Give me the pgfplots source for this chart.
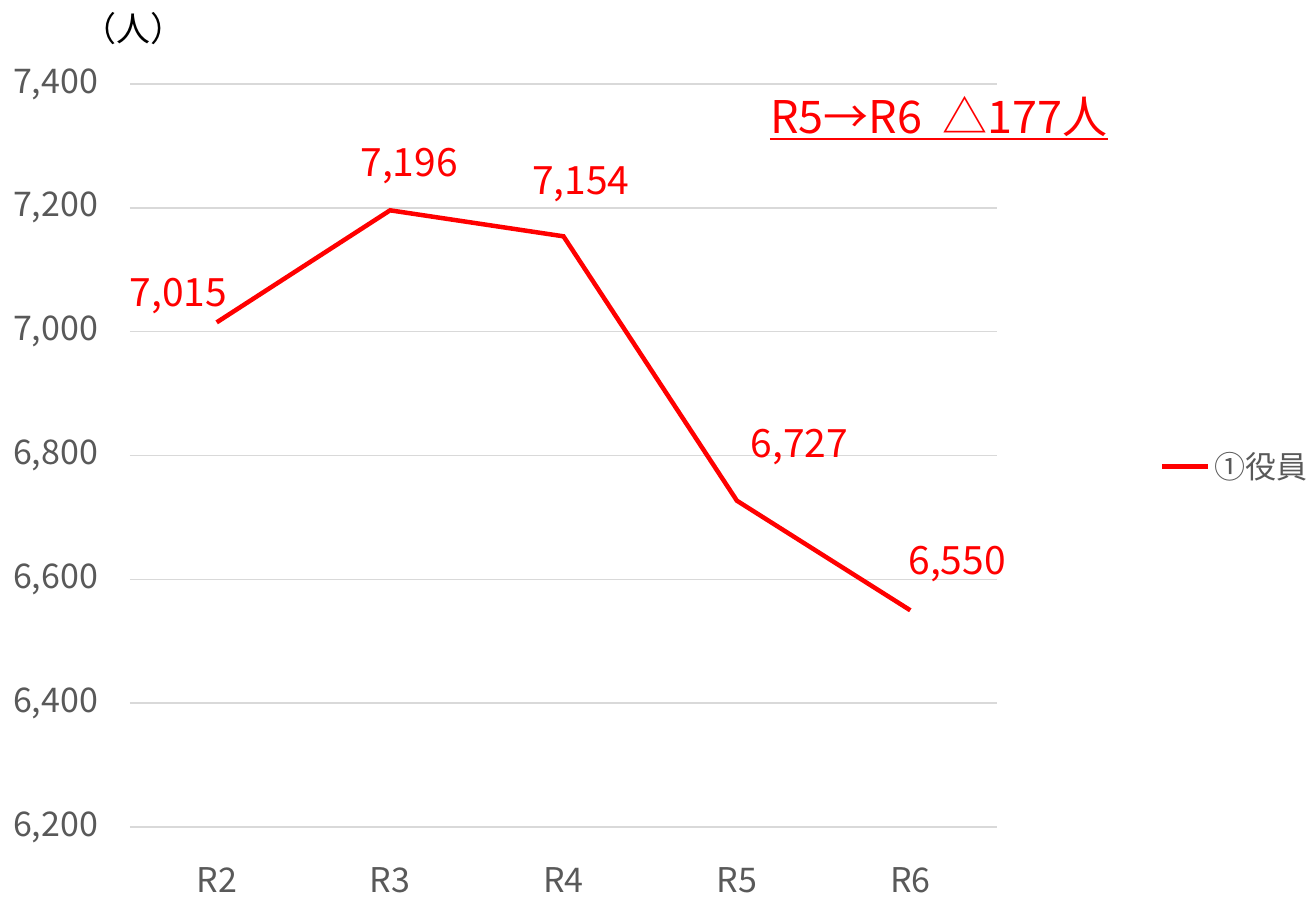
\documentclass[border=0pt]{standalone}
\usepackage{pgfplots}
\pgfplotsset{compat=1.18}
\usepackage{fontspec}
\setmainfont{Noto Sans CJK JP}
\newfontfamily\jp{Noto Sans CJK JP}
\definecolor{tickgray}{HTML}{595959}
\definecolor{gridgray}{HTML}{D9D9D9}
\definecolor{myred}{HTML}{FF0000}
\begin{document}
\begin{tikzpicture}[x=1pt,y=1pt]
\useasboundingbox (0,0) rectangle (656,448);
\begin{axis}[
  at={(65pt,34.5pt)}, anchor=south west,
  scale only axis, width=433.5pt, height=371.5pt,
  xmin=-0.5, xmax=4.5, ymin=6200, ymax=7400,
  xtick={0,1,2,3,4}, xticklabels={R2,R3,R4,R5,R6},
  ytick={6200,6400,6600,6800,7000,7200,7400},
  ymajorgrids, grid style={gridgray, line width=0.75pt},
  axis line style={draw=none}, tick style={draw=none},
  /pgf/number format/.cd, 1000 sep={,}, assume math mode=true, /pgfplots/.cd,
  ticklabel style={font=\fontsize{17}{19}\selectfont, text=tickgray},
  yticklabel style={xshift=-12.5pt},
  xticklabel style={yshift=-17pt},
  clip=false,
  legend style={at={(1.1875,0.485)}, anchor=west, draw=none, fill=none,
    font=\fontsize{15.5}{18}\selectfont, text=tickgray, inner sep=0pt,
    legend cell align=left},
  legend image code/.code={\draw[#1, line width=2.25pt] (0pt,0pt) -- (23pt,0pt);},
]
\addplot[myred, line width=2.25pt] coordinates {(0,7015) (1,7196) (2,7154) (3,6727) (4,6550)};
\addlegendentry[xshift=-5pt]{①役員}
\node[text=myred, font=\fontsize{19.5}{22}\selectfont] at (axis cs:-0.22,7057) {7,015};
\node[text=myred, font=\fontsize{19.5}{22}\selectfont] at (axis cs:1.11,7268) {7,196};
\node[text=myred, font=\fontsize{19.5}{22}\selectfont] at (axis cs:2.10,7238) {7,154};
\node[text=myred, font=\fontsize{19.5}{22}\selectfont] at (axis cs:3.36,6813) {6,727};
\node[text=myred, font=\fontsize{19.5}{22}\selectfont] at (axis cs:4.27,6624) {6,550};
\node[text=myred, font=\fontsize{22.5}{25}\selectfont, inner sep=0pt] (ann) at (axis cs:4.165,7348) {R5→R6\ \ △177人};
\draw[myred, line width=0.9pt] ([yshift=-1pt]ann.south west) -- ([yshift=-1pt]ann.south east);
\node[text=black, font=\fontsize{17}{19}\selectfont] at (axis cs:-0.48,7490) {（人）};
\end{axis}
\end{tikzpicture}
\end{document}
